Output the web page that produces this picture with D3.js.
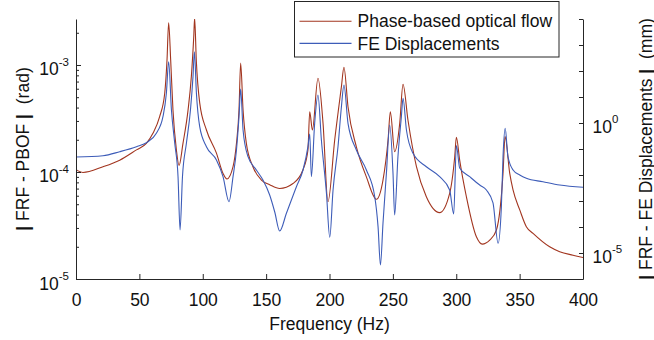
<!DOCTYPE html>
<html>
<head>
<meta charset="utf-8">
<script src="https://cdn.jsdelivr.net/npm/d3@7"></script>
<style>
  body { margin: 0; background: #fff; }
  svg { display: block; font-family: "Liberation Sans", Arial, Helvetica, sans-serif; }
  text { white-space: pre; }
</style>
</head>
<body>
<script>
// Phase-based optical flow FRF (left axis, rad)
const pbofFreq = [0, 5.5, 21.3, 34.5, 47.7, 55.5, 60.7, 66.0, 70.0, 71.8, 73.1, 74.7, 76.5, 79.2, 81.3,
  84.4, 88.4, 91.0, 92.9, 93.6, 94.9, 97.6, 102.9, 110.8, 116.0, 119.1, 123.9, 126.6, 128.6, 129.9,
  131.8, 134.4, 139.6, 146.3, 152.8, 160.7, 171.2, 179.1, 183.0, 184.4, 186.5, 190.9, 194.9, 198.8,
  204.1, 209.4, 211.4, 214.6, 221.2, 229.1, 237.0, 242.2, 246.2, 248.0, 251.4, 255.4, 258.0, 261.9,
  268.6, 276.4, 286.9, 294.8, 298.8, 300.1, 302.7, 308.0, 315.9, 320.5, 326.4, 331.7, 336.9, 338.5,
  342.2, 344.8, 350.1, 355.3, 360.6, 373.7, 381.6, 392.1, 400]
const pbofValue = [1.05e-4, 0.99e-4, 1.12e-4, 1.29e-4, 1.61e-4, 1.85e-4, 2.30e-4, 3.29e-4, 5.45e-4, 1.11e-3, 2.48e-3, 1.11e-3, 3.79e-4, 1.61e-4, 1.15e-4,
  1.85e-4, 3.79e-4, 7.78e-4, 1.84e-3, 2.75e-3, 1.11e-3, 4.42e-4, 2.47e-4, 1.50e-4, 0.97e-4, 0.86e-4, 1.12e-4, 1.85e-4, 3.79e-4, 1.04e-3,
  3.79e-4, 1.85e-4, 1.12e-4, 0.84e-4, 0.76e-4, 0.70e-4, 0.78e-4, 1.05e-4, 1.61e-4, 3.66e-4, 2.47e-4, 7.52e-4, 2.85e-4, 0.527e-4,
  1.99e-4, 6.27e-4, 9.53e-4, 4.07e-4, 1.72e-4, 0.90e-4, 0.556e-4, 0.84e-4, 1.99e-4, 3.66e-4, 1.55e-4, 2.85e-4, 6.61e-4, 3.06e-4,
  1.12e-4, 0.587e-4, 0.417e-4, 0.632e-4, 1.39e-4, 2.11e-4, 1.29e-4, 0.587e-4, 0.248e-4, 0.212e-4, 0.231e-4, 0.287e-4, 0.97e-4, 2.14e-4,
  0.97e-4, 0.679e-4, 0.442e-4, 0.308e-4, 0.267e-4, 0.200e-4, 0.180e-4, 0.167e-4, 0.159e-4]

// FE displacements FRF (right axis, mm)
const feFreq = [0, 21.3, 34.5, 47.7, 55.5, 63.4, 68.6, 71.3, 73.1, 75.3, 77.9, 80.5, 82.1, 84.0, 87.1,
  90.3, 92.3, 93.4, 95.0, 97.6, 102.9, 110.8, 116.0, 120.7, 123.9, 126.6, 128.6, 129.9, 131.8, 135.7,
  142.3, 147.5, 152.8, 156.8, 160.7, 166.0, 173.9, 179.1, 183.0, 184.4, 185.7, 188.3, 190.9, 193.6,
  197.6, 200.2, 202.8, 206.7, 209.4, 211.4, 214.6, 221.2, 229.1, 235.7, 238.3, 240.2, 242.2, 244.9,
  247.5, 250.1, 251.4, 254.0, 256.7, 258.0, 260.7, 265.9, 276.4, 286.9, 294.8, 298.0, 300.1, 302.7,
  310.6, 318.5, 323.8, 329.0, 333.0, 335.6, 336.9, 338.6, 340.8, 344.8, 350.1, 355.3, 368.4, 381.6, 400]
const feValue = [0.0492, 0.0552, 0.0787, 0.1225, 0.1746, 0.402, 1.746, 13.87, 228, 3.16, 0.1656, 0.00861, 7.67e-5, 0.00861, 0.1656,
  3.16, 60.4, 552, 13.87, 0.721, 0.1225, 0.0378, 0.00861, 9.4e-4, 0.00861, 0.0916, 1.746, 20.3, 0.538, 0.0506,
  0.01556, 6.43e-3, 1.70e-3, 3.78e-4, 7.0e-5, 3.37e-4, 0.00355, 0.01556, 0.1225, 0.378, 0.00861, 0.974, 11.9, 0.222,
  1.98e-3, 4.02e-5, 2.65e-3, 0.1225, 4.24, 29.0, 0.974, 0.0916, 0.01556, 1.46e-3, 1.03e-4, 3.45e-6, 1.39e-4, 0.0116,
  0.838, 0.0116, 2.90e-4, 0.0506, 1.746, 8.91, 0.538, 0.0684, 0.0208, 0.00861, 2.65e-3, 3.16e-4, 0.1365, 0.0186,
  0.00861, 4.12e-3, 2.65e-3, 8.4e-4, 2.36e-5, 6.04e-4, 0.0506, 0.625, 0.0506, 0.01556, 0.01, 0.00746, 0.00552, 0.00412, 0.00336]

const xTicks = [0, 50, 100, 150, 200, 250, 300, 350, 400]
const leftDomain = [1e-5, 2.69e-3]
const leftMajorTicks = [1e-5, 1e-4, 1e-3]
const leftTickExponents = ["-5", "-4", "-3"]
const rightDomain = [1e-6, 1e4]
const rightTicks = [1e-6, 1e-5, 1e-4, 1e-3, 1e-2, 1e-1, 1e0, 1e1, 1e2, 1e3, 1e4]
const rightLabelTicks = [1e-5, 1e0]
const rightTickExponents = ["-5", "0"]
const seriesNames = ["Phase-based optical flow", "FE Displacements"]
const seriesColors = ["#a2351f", "#3d5cb8"]

function drawChart() {
  let dimensions = {
    width: 654,
    height: 340,
    margin: { top: 19, right: 71, bottom: 61, left: 76 },
  }
  dimensions.boundedWidth = dimensions.width - dimensions.margin.left - dimensions.margin.right
  dimensions.boundedHeight = dimensions.height - dimensions.margin.top - dimensions.margin.bottom

  const axisColor = "#262626"
  const fontSize = 17.5
  const supSize = 11.5

  const wrapper = d3.select("body")
    .append("svg")
      .attr("width", dimensions.width)
      .attr("height", dimensions.height)

  const bounds = wrapper.append("g")
    .attr("transform", `translate(${dimensions.margin.left}, ${dimensions.margin.top})`)

  // scales
  const xScale = d3.scaleLinear()
    .domain([0, 400])
    .range([0, dimensions.boundedWidth])
  const yLeft = d3.scaleLog()
    .domain(leftDomain)
    .range([dimensions.boundedHeight, 0])
  const yRight = d3.scaleLog()
    .domain(rightDomain)
    .range([dimensions.boundedHeight, 0])

  // lines
  bounds.append("clipPath")
      .attr("id", "plot-clip")
    .append("rect")
      .attr("width", dimensions.boundedWidth)
      .attr("height", dimensions.boundedHeight)

  const redLine = d3.line()
    .x((d, i) => xScale(pbofFreq[i]))
    .y(d => yLeft(d))
    .curve(d3.curveMonotoneX)
  const blueLine = d3.line()
    .x((d, i) => xScale(feFreq[i]))
    .y(d => yRight(d))
    .curve(d3.curveMonotoneX)

  const lines = bounds.append("g").attr("clip-path", "url(#plot-clip)")
  lines.append("path")
      .attr("d", redLine(pbofValue))
      .attr("fill", "none")
      .attr("stroke", seriesColors[0])
      .attr("stroke-width", 1.1)
  lines.append("path")
      .attr("d", blueLine(feValue))
      .attr("fill", "none")
      .attr("stroke", seriesColors[1])
      .attr("stroke-width", 1.1)

  // x axis
  const xAxis = bounds.append("g")
      .attr("transform", `translate(0, ${dimensions.boundedHeight})`)
      .call(d3.axisBottom(xScale).tickValues(xTicks).tickSizeInner(-5).tickSizeOuter(0).tickPadding(15))
  xAxis.selectAll("text")
      .attr("font-size", fontSize)
      .attr("font-family", null)
      .attr("fill", "#111")
  xAxis.append("text")
      .attr("x", dimensions.boundedWidth / 2)
      .attr("y", 50.5)
      .attr("fill", "#111")
      .attr("text-anchor", "middle")
      .attr("font-size", fontSize)
      .text("Frequency (Hz)")

  // left axis with minor ticks
  const leftAllTicks = []
  leftMajorTicks.forEach(m => {
    for (let k = 1; k <= 9; k++) {
      if (m * k <= leftDomain[1] * 1.0001) leftAllTicks.push(m * k)
    }
  })
  const isMajor = v => leftMajorTicks.some(m => Math.abs(v / m - 1) < 1e-6)
  const leftAxis = bounds.append("g")
      .call(d3.axisLeft(yLeft).tickValues(leftAllTicks).tickFormat(() => "").tickSizeInner(-5).tickSizeOuter(0))
  leftAxis.selectAll(".tick line")
      .attr("x2", d => isMajor(d) ? 5 : 3)

  const leftLabels = bounds.append("g")
    .selectAll("text")
    .data(leftMajorTicks)
    .join("text")
      .attr("x", -7)
      .attr("y", d => yLeft(d) + 10.5)
      .attr("text-anchor", "end")
      .attr("font-size", fontSize)
      .attr("fill", "#111")
  leftLabels.append("tspan").text("10")
  leftLabels.append("tspan")
      .attr("font-size", supSize)
      .attr("dy", -9.5)
      .text((d, i) => leftTickExponents[i])

  // right axis
  const rightAxis = bounds.append("g")
      .attr("transform", `translate(${dimensions.boundedWidth}, 0)`)
      .call(d3.axisRight(yRight).tickValues(rightTicks).tickFormat(() => "").tickSizeInner(-4).tickSizeOuter(0))

  const rightLabels = bounds.append("g")
    .selectAll("text")
    .data(rightLabelTicks)
    .join("text")
      .attr("x", dimensions.boundedWidth + 9.5)
      .attr("y", d => yRight(d) + 9.5)
      .attr("font-size", fontSize)
      .attr("fill", "#111")
  rightLabels.append("tspan").text("10")
  rightLabels.append("tspan")
      .attr("font-size", supSize)
      .attr("dy", -10)
      .text((d, i) => rightTickExponents[i])

  ;[xAxis, leftAxis, rightAxis].forEach(a => {
    a.select(".domain").attr("stroke", axisColor).attr("stroke-width", 1)
    a.selectAll(".tick line").attr("stroke", axisColor).attr("stroke-width", 1)
  })

  // axis titles
  const leftTitle = wrapper.append("text")
      .attr("transform", `translate(28.5, ${dimensions.margin.top + dimensions.boundedHeight / 2}) rotate(-90)`)
      .attr("text-anchor", "middle")
      .attr("font-size", fontSize)
      .attr("fill", "#111")
  leftTitle.append("tspan").attr("font-weight", "bold").text("|")
  leftTitle.append("tspan").text(" FRF - PBOF ")
  leftTitle.append("tspan").attr("font-weight", "bold").text("|")
  leftTitle.append("tspan").text("  (rad)")

  const rightTitle = wrapper.append("text")
      .attr("transform", `translate(651.5, ${dimensions.margin.top + dimensions.boundedHeight / 2}) rotate(-90)`)
      .attr("text-anchor", "middle")
      .attr("font-size", fontSize)
      .attr("fill", "#111")
  rightTitle.append("tspan").attr("font-weight", "bold").text("|")
  rightTitle.append("tspan").text(" FRF - FE Displacements ")
  rightTitle.append("tspan").attr("font-weight", "bold").text("|")
  rightTitle.append("tspan").text("  (mm)")

  // legend
  const legend = wrapper.append("g")
  legend.append("rect")
      .attr("x", 294.5)
      .attr("y", 1.5)
      .attr("width", 264.5)
      .attr("height", 55.5)
      .attr("fill", "#fff")
      .attr("stroke", axisColor)
      .attr("stroke-width", 1)
  const items = legend.selectAll(".item")
    .data(seriesNames)
    .join("g")
      .attr("class", "item")
      .attr("transform", (d, i) => `translate(299.5, ${21.2 + i * 22.2})`)
  items.append("line")
      .attr("x2", 52)
      .attr("stroke", (d, i) => seriesColors[i])
      .attr("stroke-width", 1.1)
  items.append("text")
      .attr("x", 58)
      .attr("y", 6.2)
      .attr("font-size", fontSize)
      .attr("fill", "#111")
      .text(d => d)
}
drawChart()
</script>
</body>
</html>
